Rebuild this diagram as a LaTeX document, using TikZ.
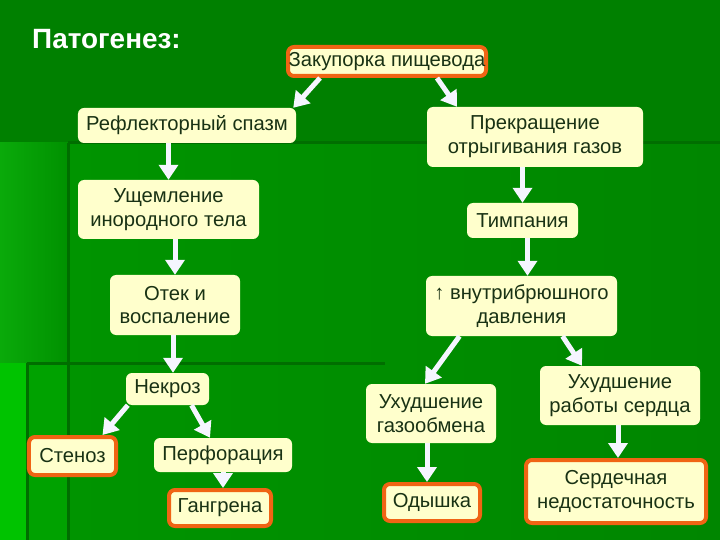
\documentclass[tikz,border=0pt]{standalone}
\usepackage{fontspec}
\setmainfont{Liberation Sans}
\usepackage{xcolor}
\usetikzlibrary{arrows.meta,calc}
\definecolor{bgmid}{RGB}{0,128,0}
\definecolor{bglowa}{RGB}{0,148,0}
\definecolor{bglowb}{RGB}{0,134,0}
\definecolor{bgsidea}{RGB}{10,170,10}
\definecolor{bgsideb}{RGB}{0,145,0}
\definecolor{bgedge}{RGB}{0,195,0}
\definecolor{bgsidec}{RGB}{0,162,0}
\definecolor{bgline}{RGB}{0,110,0}
\definecolor{cream}{RGB}{255,255,204}
\definecolor{ink}{RGB}{25,50,20}
\definecolor{orng}{RGB}{240,100,20}
\definecolor{arrw}{RGB}{245,245,255}

\begin{document}
\begin{tikzpicture}[x=1bp,y=-1bp,
    box/.style={fill=cream, rounded corners=6bp, align=center, text=ink, font=\fontsize{20.3}{24}\selectfont, inner sep=0pt},
    alarm/.style={box, draw=orng, line width=4bp},
    head/.style={font=\fontsize{28}{31}\selectfont\bfseries, text=white, inner sep=0pt},
    rule/.style={draw=bgline, line width=3bp},
    arr/.style={-{Triangle[width=19bp,length=15bp]}, draw=arrw, line width=5bp},
]
    \useasboundingbox (0,0) rectangle (720,540);
    \fill[bgmid] (0,0) rectangle (720,540);
    \shade[left color=bglowa, right color=bglowb] (68,143) rectangle (720,540);
    \shade[left color=bgsidea, right color=bgsideb] (0,143) rectangle (68,540);
    \fill[bgsidec] (27,363) rectangle (68,540);
    \fill[bgedge] (0,363) rectangle (27,540);
    \draw[rule] (68,143) -- (720,143);
    \draw[rule] (68,143) -- (68,540);
    \draw[rule] (27,363) -- (385,363);
    \draw[rule] (27,363) -- (27,540);

    \node[head, anchor=base west] (ttl) at (32,49) {Патогенез:};

    \node[alarm, minimum width=198bp, minimum height=29bp] (zak)    at (387,61.5)   {Закупорка пищевода};
    \node[box,   minimum width=218bp, minimum height=35bp] (refl)   at (187,125.5)  {Рефлекторный спазм};
    \node[box,   minimum width=216bp, minimum height=60bp] (prekr)  at (535,137)    {Прекращение\\отрыгивания газов};
    \node[box,   minimum width=181bp, minimum height=59bp] (ushch)  at (168.5,209.5){Ущемление\\инородного тела};
    \node[box,   minimum width=111bp, minimum height=35bp] (timp)   at (522.5,220.5){Тимпания};
    \node[box,   minimum width=130bp, minimum height=60bp] (otek)   at (175,305)    {Отек и\\воспаление};
    \node[box,   minimum width=191bp, minimum height=60bp] (vnutr)  at (521.5,306)  {↑ внутрибрюшного\\давления};
    \node[box,   minimum width=83bp,  minimum height=32bp] (nekr)   at (167.5,389)  {Некроз};
    \node[alarm, minimum width=87bp,  minimum height=38bp] (sten)   at (72.5,456)   {Стеноз};
    \node[box,   minimum width=138bp, minimum height=34bp] (perf)   at (223,455)    {Перфорация};
    \node[alarm, minimum width=102bp, minimum height=36bp] (gangr)  at (220,508)    {Гангрена};
    \node[box,   minimum width=130bp, minimum height=59bp] (gazo)   at (431,413.5)  {Ухудшение\\газообмена};
    \node[box,   minimum width=160bp, minimum height=59bp] (serd)   at (620,395.5)  {Ухудшение\\работы сердца};
    \node[alarm, minimum width=96bp,  minimum height=37bp] (odysh)  at (432,502.5)  {Одышка};
    \node[alarm, minimum width=180bp, minimum height=63bp] (nedost) at (616,491.5)  {Сердечная\\недостаточность};

    \draw[arr] ([xshift=-67bp]zak.south) -- ([xshift=-3bp]refl.north east);
    \draw[arr] ([xshift=50bp]zak.south)  -- ([xshift=-78bp]prekr.north);
    \draw[arr] (ushch.north |- refl.south) -- (ushch.north);
    \draw[arr] (timp.north |- prekr.south) -- (timp.north);
    \draw[arr] (otek.north |- ushch.south) -- (otek.north);
    \draw[arr] ([xshift=5bp]timp.south) -- ([xshift=5bp]timp.south |- vnutr.north);
    \draw[arr] ([xshift=-2bp]otek.south) -- ([xshift=-2bp]otek.south |- nekr.north);
    \draw[arr] ([xshift=-62bp]vnutr.south) -- ([xshift=-6bp]gazo.north);
    \draw[arr] ([xshift=41bp]vnutr.south)  -- ([xshift=-38bp]serd.north);
    \draw[arr] ([xshift=2bp]nekr.south west) -- ([xshift=30bp]sten.north);
    \draw[arr] ([xshift=24bp]nekr.south) -- ([xshift=-13bp]perf.north);
    \draw[arr] (perf.south) -- (perf.south |- gangr.north);
    \draw[arr] ([xshift=-4bp]gazo.south) -- ([xshift=-4bp]gazo.south |- odysh.north);
    \draw[arr] ([xshift=-2bp]serd.south) -- ([xshift=-2bp]serd.south |- nedost.north);
\end{tikzpicture}
\end{document}
